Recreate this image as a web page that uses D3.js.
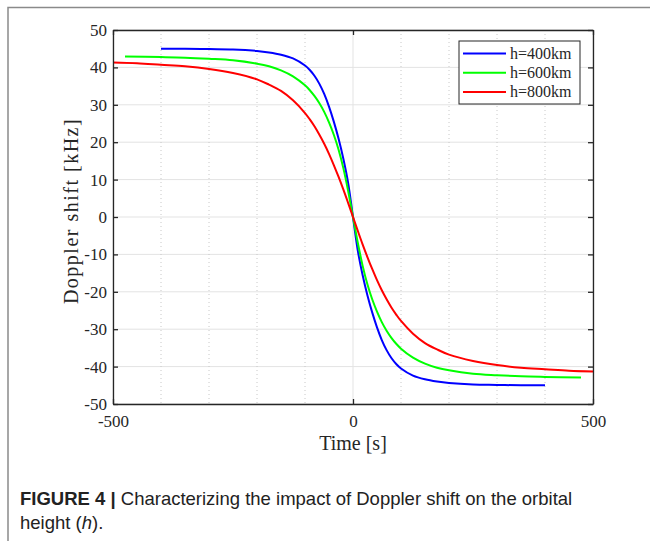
<!DOCTYPE html>
<html>
<head>
<meta charset="utf-8">
<script src="https://cdn.jsdelivr.net/npm/d3@7"></script>
<style>
  body { margin: 0; background: #fff; }
  svg text { font-family: "Liberation Serif", "Times New Roman", serif; fill: #262626; }
  .caption { font-family: "Liberation Sans", Arial, sans-serif; fill: #222; }
</style>
</head>
<body>
<div id="chart"></div>
<script>
// values (time in s, Doppler shift in kHz)
var timeBlue = [-400,-350,-300,-250,-200,-175,-150,-125,-100,-90,-80,-70,-60,-50,-40,-30,-20,-10,0,
  10,20,30,40,50,60,70,80,90,100,125,150,175,200,250,300,350,400];
var shiftBlue = [45.0,45.0,44.9,44.8,44.4,44.0,43.4,42.4,40.5,39.3,37.7,35.6,32.9,29.5,25.5,20.9,15.5,9.0,0,
  -9.0,-15.5,-20.9,-25.5,-29.5,-32.9,-35.6,-37.7,-39.3,-40.5,-42.4,-43.4,-44.0,-44.4,-44.8,-44.9,-45.0,-45.0];

var timeGreen = [-475,-400,-350,-300,-250,-200,-175,-150,-125,-100,-90,-80,-70,-60,-50,-40,-30,-20,-10,0,
  10,20,30,40,50,60,70,80,90,100,125,150,175,200,250,300,350,400,475];
var shiftGreen = [42.9,42.75,42.6,42.3,41.9,41.0,40.3,39.2,37.6,35.2,33.9,32.3,30.4,28.1,25.3,22.0,18.0,13.0,6.9,0,
  -6.9,-13.0,-18.0,-22.0,-25.3,-28.1,-30.4,-32.3,-33.9,-35.2,-37.6,-39.2,-40.3,-41.0,-41.9,-42.3,-42.6,-42.75,-42.9];

var timeRed = [-500,-450,-400,-350,-300,-250,-200,-175,-150,-125,-100,-90,-80,-70,-60,-50,-40,-30,-20,-10,0,
  10,20,30,40,50,60,70,80,90,100,125,150,175,200,250,300,350,400,450,500];
var shiftRed = [41.3,41.1,40.7,40.3,39.6,38.5,36.8,35.4,33.7,31.2,27.8,26.1,24.2,22.0,19.6,16.9,13.9,10.7,7.3,3.7,0,
  -3.7,-7.3,-10.7,-13.9,-16.9,-19.6,-22.0,-24.2,-26.1,-27.8,-31.2,-33.7,-35.4,-36.8,-38.5,-39.6,-40.3,-40.7,-41.1,-41.3];

var seriesNames = ["h=400km", "h=600km", "h=800km"];
var seriesColors = ["#0000ff", "#00ff00", "#ff0000"];
var xTicks = [-500, 0, 500];
var xMinor = [-400, -300, -200, -100, 100, 200, 300, 400];
var yTicks = [-50, -40, -30, -20, -10, 0, 10, 20, 30, 40, 50];

var series = [
  {name: seriesNames[0], color: seriesColors[0], t: timeBlue, v: shiftBlue},
  {name: seriesNames[1], color: seriesColors[1], t: timeGreen, v: shiftGreen},
  {name: seriesNames[2], color: seriesColors[2], t: timeRed, v: shiftRed}
];

var W = 650, H = 541;
var margin = {top: 30, right: 57, bottom: 137, left: 113},
  width = W - margin.left - margin.right,
  height = H - margin.top - margin.bottom;

var svg = d3.select("#chart").append("svg")
  .attr("width", W).attr("height", H);

// figure frame
svg.append("path")
  .attr("d", "M 8 " + H + " L 8 7.5 L " + W + " 7.5")
  .attr("fill", "none").attr("stroke", "#8a8a8a").attr("stroke-width", 1.5);

var g = svg.append("g").attr("transform", `translate(${margin.left},${margin.top})`);

var x = d3.scaleLinear().domain([-500, 500]).range([0, width]);
var y = d3.scaleLinear().domain([-50, 50]).range([height, 0]);

// grid
g.selectAll(".hgrid").data(yTicks).enter().append("line")
  .attr("x1", 0).attr("x2", width)
  .attr("y1", d => y(d)).attr("y2", d => y(d))
  .attr("stroke", "#e3e3e3").attr("stroke-width", 1);
g.selectAll(".vminor").data(xMinor).enter().append("line")
  .attr("y1", 0).attr("y2", height)
  .attr("x1", d => x(d)).attr("x2", d => x(d))
  .attr("stroke", "#c8c8c8").attr("stroke-width", 1).attr("stroke-dasharray", "1,3");
g.selectAll(".vgrid").data(xTicks).enter().append("line")
  .attr("y1", 0).attr("y2", height)
  .attr("x1", d => x(d)).attr("x2", d => x(d))
  .attr("stroke", "#e3e3e3").attr("stroke-width", 1);

// curves
var line = d3.line().x(d => x(d[0])).y(d => y(d[1])).curve(d3.curveCatmullRom.alpha(0.5));
series.forEach(function(s) {
  g.append("path")
    .datum(d3.zip(s.t, s.v))
    .attr("fill", "none")
    .attr("stroke", s.color)
    .attr("stroke-width", 2)
    .attr("d", line);
});

// axes (ticks inside, box on all sides)
function styleAxis(sel) {
  sel.select(".domain").attr("stroke", "#262626").attr("stroke-width", 1.3);
  sel.selectAll(".tick line").attr("stroke", "#262626").attr("stroke-width", 1.3);
  sel.selectAll("text").attr("font-family", "Liberation Serif").attr("font-size", 17).attr("fill", "#262626");
}
var fmt = d => String(d);
g.append("g").attr("transform", `translate(0,${height})`)
  .call(d3.axisBottom(x).tickValues(xTicks).tickSizeInner(-5).tickSizeOuter(0).tickPadding(11).tickFormat(fmt))
  .call(styleAxis);
g.append("g")
  .call(d3.axisTop(x).tickValues(xTicks).tickSizeInner(-5).tickSizeOuter(0).tickFormat(""))
  .call(styleAxis);
g.append("g")
  .call(d3.axisLeft(y).tickValues(yTicks).tickSizeInner(-5).tickSizeOuter(0).tickPadding(6).tickFormat(fmt))
  .call(styleAxis);
g.append("g").attr("transform", `translate(${width},0)`)
  .call(d3.axisRight(y).tickValues(yTicks).tickSizeInner(-5).tickSizeOuter(0).tickFormat(""))
  .call(styleAxis);

// axis titles
g.append("text")
  .attr("x", width / 2).attr("y", height + 46)
  .attr("text-anchor", "middle").attr("font-size", 20)
  .text("Time [s]");
g.append("text")
  .attr("transform", `translate(-35,${height / 2 - 6}) rotate(-90)`)
  .attr("text-anchor", "middle").attr("font-size", 20)
  .attr("letter-spacing", 1.5)
  .text("Doppler shift [kHz]");

// legend
var lg = g.append("g").attr("transform", `translate(${width - 134},11)`);
lg.append("rect").attr("width", 121).attr("height", 63)
  .attr("fill", "#fff").attr("stroke", "#262626").attr("stroke-width", 1);
series.forEach(function(s, i) {
  var yy = 12.5 + i * 19.3;
  lg.append("line").attr("x1", 4).attr("x2", 47).attr("y1", yy).attr("y2", yy)
    .attr("stroke", s.color).attr("stroke-width", 2);
  lg.append("text").attr("x", 51).attr("y", yy + 5)
    .attr("font-size", 16).text(s.name);
});

// caption
var cap = svg.append("text").attr("class", "caption").attr("x", 20).attr("y", 505).attr("font-size", 18.5);
cap.append("tspan").attr("font-weight", "bold").text("FIGURE 4 | ");
cap.append("tspan").text("Characterizing the impact of Doppler shift on the orbital");
var cap2 = svg.append("text").attr("class", "caption").attr("x", 20).attr("y", 529).attr("font-size", 18.5);
cap2.append("tspan").text("height (");
cap2.append("tspan").attr("font-style", "italic").text("h");
cap2.append("tspan").text(").");
</script>
</body>
</html>
